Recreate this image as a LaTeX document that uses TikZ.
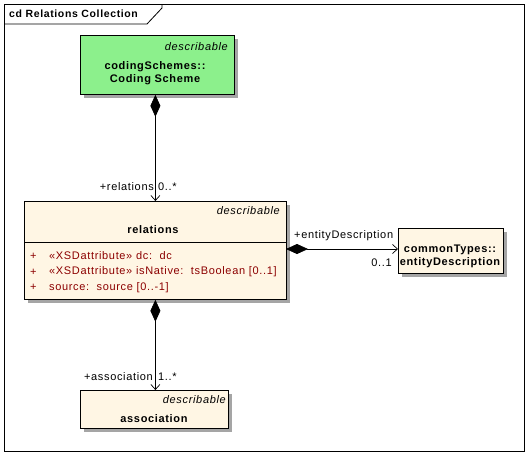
\documentclass[tikz,border=0pt]{standalone}
\usepackage{fontspec}
\setmainfont{Liberation Sans}[LetterSpace=6]
\usetikzlibrary{arrows.meta}
\definecolor{csgreen}{RGB}{140,240,140}
\definecolor{cream}{RGB}{255,246,228}
\definecolor{attrred}{RGB}{140,0,0}
\definecolor{shadowgray}{RGB}{165,165,165}
\begin{document}
\begin{tikzpicture}[x=1pt,y=-1pt,
  font=\fontsize{11}{12.5}\selectfont,
  box/.style={draw=black, line width=0.8pt, anchor=north west, inner sep=0pt,
    preaction={fill=shadowgray, transform canvas={shift={(4pt,-4pt)}}}},
  lbl/.style={inner sep=0pt},
  ster/.style={inner sep=0pt, font=\fontsize{11}{12.5}\selectfont\itshape},
  ttl/.style={inner sep=0pt, font=\fontsize{11}{13}\selectfont\bfseries, align=center},
  attr/.style={inner sep=0pt, anchor=west, text=attrred},
  comp/.style={line width=0.7pt, {Diamond[length=22pt,width=10pt]}-{Straight Barb[length=5pt,width=9pt,line width=0.7pt]}}
]
\useasboundingbox (0,0) rectangle (528,455);
% frame
\draw[line width=0.8pt] (4,4) rectangle (524,451);
\draw[line width=0.8pt] (4,24) -- (147,24) -- (162,8) -- (162,4);
\node[ttl, anchor=west, font=\fontsize{10.5}{12}\selectfont\bfseries] (title) at (9,14) {cd Relations Collection};

% boxes
\node[box, fill=csgreen, minimum width=154pt, minimum height=59pt] (cs) at (80,35) {};
\node[box, fill=cream, minimum width=262pt, minimum height=98pt] (rel) at (24,201) {};
\node[box, fill=cream, minimum width=105pt, minimum height=45pt] (ent) at (398,228) {};
\node[box, fill=cream, minimum width=148pt, minimum height=38pt] (asc) at (80,390) {};

% coding scheme
\node[ster, anchor=east] (csst) at (228,47) {describable};
\node[ttl] (csname) at (155,73.5) {codingSchemes::\\Coding Scheme};

% relations
\node[ster, anchor=east] (relst) at (280,211) {describable};
\node[ttl] (relname) at (153,230) {relations};
\coordinate (sepl) at (24,242);
\coordinate (sepr) at (286,242);
\draw[line width=0.8pt] (sepl) -- (sepr);
\node[attr] (p1) at (30,256) {+};
\node[attr] (p2) at (30,272) {+};
\node[attr] (p3) at (30,287.5) {+};
\node[attr] (a1) at (49,256) {«XSDattribute» dc:\ \ dc};
\node[attr] (a2) at (49,272) {«XSDattribute» isNative:\ \ tsBoolean [0..1]};
\node[attr] (a3) at (49,287.5) {source:\ \ source [0..-1]};

% entity description
\node[ttl] (entname) at (450,256.5) {commonTypes::\\entityDescription};

% association
\node[ster, anchor=east] (ascst) at (226,400) {describable};
\node[ttl] (ascname) at (154,419) {association};

% connectors
\draw[comp] (cs.south -| rel.north) -- (rel.north);
\draw[comp] (rel.south) -- (rel.south |- asc.north);
\coordinate (relr) at (286,249);
\draw[comp] (relr) -- (relr -| ent.west);

% labels
\node[lbl, anchor=east] (l1) at (154,187) {+relations};
\node[lbl, anchor=west] (l2) at (158,187) {0..*};
\node[lbl, anchor=east] (l3) at (153,377) {+association};
\node[lbl, anchor=west] (l4) at (158,377) {1..*};
\node[lbl, anchor=west] (l5) at (294,235.5) {+entityDescription};
\node[lbl, anchor=east] (l6) at (392,263) {0..1};
\end{tikzpicture}
\end{document}
